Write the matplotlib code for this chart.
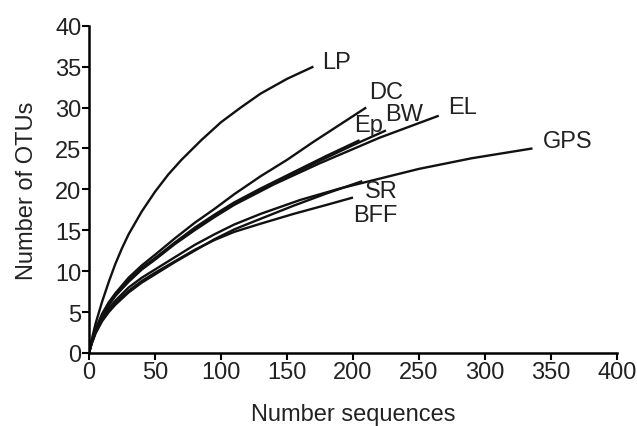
import matplotlib
matplotlib.use("Agg")
import matplotlib.pyplot as plt

# === DATA ===
lp_x = [0, 2, 5, 10, 15, 20, 25, 30, 40, 50, 60, 70, 85, 100, 115, 130, 150, 170]
lp_y = [0, 1.6, 3.6, 6.3, 8.7, 10.9, 12.8, 14.5, 17.3, 19.7, 21.8, 23.6, 26, 28.2, 30, 31.7, 33.5, 35]

dc_x = [0, 2, 5, 10, 15, 20, 30, 40, 50, 65, 80, 95, 110, 130, 150, 170, 190, 210]
dc_y = [0, 1.3, 2.9, 4.8, 6.2, 7.3, 9.2, 10.7, 12, 14, 15.9, 17.6, 19.4, 21.6, 23.6, 25.8, 27.9, 30]

ep_x = [0, 2, 5, 10, 15, 20, 30, 40, 50, 65, 80, 95, 110, 130, 155, 180, 205]
ep_y = [0, 1.3, 2.8, 4.7, 6, 7.1, 8.9, 10.4, 11.6, 13.5, 15.3, 16.9, 18.4, 20.1, 22.1, 24.1, 26]

bw_x = [0, 2, 5, 10, 15, 20, 30, 40, 50, 65, 80, 95, 110, 140, 175, 200, 225]
bw_y = [0, 1.3, 2.8, 4.6, 5.9, 7, 8.8, 10.3, 11.5, 13.4, 15.1, 16.7, 18.2, 20.8, 23.5, 25.4, 27.2]

el_x = [0, 2, 5, 10, 15, 20, 30, 40, 50, 65, 80, 95, 110, 140, 175, 220, 265]
el_y = [0, 1.3, 2.8, 4.6, 5.9, 7, 8.7, 10.2, 11.4, 13.3, 15, 16.6, 18.1, 20.6, 23.2, 26.3, 29]

gps_x = [0, 2, 5, 10, 15, 20, 30, 40, 50, 65, 80, 95, 110, 130, 160, 190, 220, 250, 290, 336]
gps_y = [0, 1.2, 2.6, 4.3, 5.5, 6.4, 8, 9.2, 10.2, 11.7, 13.2, 14.5, 15.7, 17, 18.7, 20.1, 21.3, 22.5, 23.8, 25]

sr_x = [0, 2, 5, 10, 15, 20, 30, 40, 50, 65, 80, 95, 110, 130, 155, 180, 207]
sr_y = [0, 1.1, 2.4, 3.9, 5, 5.9, 7.4, 8.6, 9.6, 11.1, 12.5, 13.9, 15.1, 16.4, 18, 19.5, 21]

bff_x = [0, 2, 5, 10, 15, 20, 30, 40, 50, 65, 80, 95, 110, 130, 155, 180, 200]
bff_y = [0, 1.2, 2.5, 4.1, 5.2, 6.1, 7.6, 8.8, 9.8, 11.2, 12.6, 13.8, 14.8, 15.8, 17, 18.1, 19]

names = ["LP", "DC", "Ep", "BW", "EL", "GPS", "SR", "BFF"]
xs = [lp_x, dc_x, ep_x, bw_x, el_x, gps_x, sr_x, bff_x]
ys = [lp_y, dc_y, ep_y, bw_y, el_y, gps_y, sr_y, bff_y]

# label offsets from curve end, in pixels
offsets = {"LP": (9, 5), "DC": (3, 16), "Ep": (-5, 15), "BW": (-1, 16),
           "EL": (9, 9), "GPS": (10, 7), "SR": (3, -10), "BFF": (0, -17)}

plt.rcParams['font.family'] = ['Liberation Sans', 'DejaVu Sans']
FS = 17

fig = plt.figure(figsize=(6.37, 4.27), dpi=100)
ax = fig.add_axes([0.1397, 0.171, 0.8289, 0.7665])

for name, x, y in zip(names, xs, ys):
    ax.plot(x, y, color='#111111', linewidth=1.7, solid_capstyle='butt')
    dx, dy = offsets[name]
    ax.annotate(name, (x[-1], y[-1]), xytext=(dx, dy), textcoords='offset pixels',
                ha='left', va='center', fontsize=FS, color='#222222')

ax.set_xlim(0, 400)
ax.set_ylim(0, 40)
ax.set_xticks(range(0, 401, 50))
ax.set_yticks(range(0, 41, 5))

for s in ['top', 'right']:
    ax.spines[s].set_visible(False)
for s in ['left', 'bottom']:
    ax.spines[s].set_linewidth(1.8)
ax.tick_params(direction='out', length=5, width=1.5, labelsize=FS, pad=0.5,
               labelcolor='#222222')

ax.set_xlabel("Number sequences", fontsize=FS, labelpad=15, color='#222222')
ax.set_ylabel("Number of OTUs", fontsize=FS, labelpad=12, color='#222222')

plt.savefig("out.png", dpi=100)
